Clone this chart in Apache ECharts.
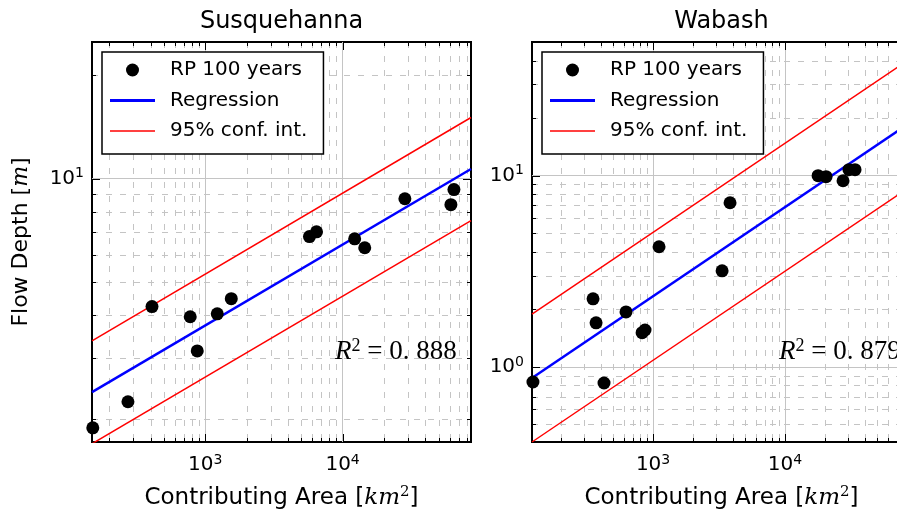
<!DOCTYPE html>
<html>
<head>
<meta charset="utf-8">
<script src="https://cdn.jsdelivr.net/npm/echarts@6/dist/echarts.min.js"></script>
<style>
html, body { margin: 0; padding: 0; background: #fff; }
#chart { width: 897px; height: 510px; }
</style>
</head>
<body>
<div id="chart"></div>
<script>
// Susquehanna, RP 100 years
var susArea = [152, 274, 410, 778, 875, 1224, 1548, 5740, 6460, 12240, 14490, 28400, 61400, 64600];
var susDepth = [1.88, 2.24, 4.24, 3.96, 3.15, 4.04, 4.47, 6.78, 7.00, 6.68, 6.29, 8.74, 8.40, 9.29];
// regression + 95% band, end points
var susLineArea = [150, 86000];
var susReg = [2.39, 10.67];
var susUpper = [3.37, 15.07];
var susLower = [1.69, 7.55];

// Wabash
var wabArea = [123, 351, 370, 425, 624, 826, 869, 1110, 3335, 3830, 17800, 20460, 27500, 30500, 33900];
var wabDepth = [0.834, 2.27, 1.70, 0.824, 1.94, 1.51, 1.56, 4.25, 3.18, 7.22, 10.0, 9.88, 9.41, 10.75, 10.75];
var wabLineArea = [121, 90000];
var wabReg = [0.875, 19.05];
var wabUpper = [1.89, 41.2];
var wabLower = [0.405, 8.81];

var titles = ['Susquehanna', 'Wabash'];
var r2Labels = ['0. 888', '0. 879'];
var legendNames = ['RP 100 years', 'Regression', '95% conf. int.'];

var xRange = [[150, 86000], [121, 90000]];
var yRange = [[1.71, 25], [0.405, 50]];

var FONT = 'DejaVu Sans';

function zip(a, b) {
    var out = [];
    for (var i = 0; i < a.length; i++) out.push([a[i], b[i]]);
    return out;
}

// 1..9 x 10^k positions inside the range, flag 1 for the decades
function logTicks(min, max) {
    var out = [];
    for (var k = Math.floor(Math.log10(min)); k <= Math.ceil(Math.log10(max)); k++) {
        for (var m = 1; m <= 9; m++) {
            var v = m * Math.pow(10, k);
            if (v > min * 1.002 && v < max / 1.002) out.push([v, m === 1 ? 1 : 0]);
        }
    }
    return out;
}

function powLabel(value) {
    var e = Math.log10(value);
    if (Math.abs(e - Math.round(e)) > 1e-6) return '';
    return '{b|10}{s|' + Math.round(e) + '}';
}

var labelRich = {
    b: { fontFamily: FONT, fontSize: 20, lineHeight: 24, color: '#000' },
    s: { fontFamily: FONT, fontSize: 14, lineHeight: 14, color: '#000', verticalAlign: 'top' }
};

function tickRenderer(dir) {
    return function(params, api) {
        var cs = params.coordSys;
        var p = api.coord([api.value(0), api.value(1)]);
        var major = api.value(2) === 1;
        var len = major ? 8 : 4;
        var kids = [];
        var tick = { stroke: '#000', lineWidth: 1 };
        var grid = { stroke: '#c4c4c4', lineWidth: 1, lineDash: [6, 8] };
        if (dir === 'x') {
            var x = Math.round(p[0]) + 0.5;
            var y0 = cs.y, y1 = cs.y + cs.height;
            if (!major) kids.push({ type: 'line', shape: { x1: x, y1: y0, x2: x, y2: y1 }, style: grid });
            kids.push({ type: 'line', shape: { x1: x, y1: y1, x2: x, y2: y1 - len }, style: tick });
            kids.push({ type: 'line', shape: { x1: x, y1: y0, x2: x, y2: y0 + len }, style: tick });
        } else {
            var y = Math.round(p[1]) + 0.5;
            var x0 = cs.x, x1 = cs.x + cs.width;
            if (!major) kids.push({ type: 'line', shape: { x1: x0, y1: y, x2: x1, y2: y }, style: grid });
            kids.push({ type: 'line', shape: { x1: x0, y1: y, x2: x0 + len, y2: y }, style: tick });
            kids.push({ type: 'line', shape: { x1: x1, y1: y, x2: x1 - len, y2: y }, style: tick });
        }
        return { type: 'group', children: kids };
    };
}

var grids = [
    { left: 92, top: 42, width: 379, height: 400 },
    { left: 532, top: 42, width: 379, height: 400 }
];

var xAxes = [], yAxes = [], series = [], legends = [], graphics = [];

var plotData = [
    { area: susArea, depth: susDepth, lineArea: susLineArea, reg: susReg, up: susUpper, lo: susLower },
    { area: wabArea, depth: wabDepth, lineArea: wabLineArea, reg: wabReg, up: wabUpper, lo: wabLower }
];

for (var i = 0; i < 2; i++) {
    var g = grids[i];
    g.show = true;
    g.borderColor = '#000';
    g.borderWidth = 2;
    g.backgroundColor = '#fff';
    g.containLabel = false;
    g.outerBoundsMode = 'none';

    xAxes.push({
        type: 'log', gridIndex: i, min: xRange[i][0], max: xRange[i][1],
        name: '{t|Contributing Area [}{i|km}{s|2}{t|]}',
        nameLocation: 'middle', nameGap: 43,
        nameTextStyle: {
            rich: {
                t: { fontFamily: FONT, fontSize: 23, lineHeight: 26, color: '#000' },
                i: { fontFamily: 'DejaVu Serif', fontStyle: 'italic', fontSize: 23, lineHeight: 26, color: '#000' },
                s: { fontFamily: 'DejaVu Serif', fontSize: 15, lineHeight: 15, color: '#000', verticalAlign: 'top' }
            }
        },
        axisLine: { show: false },
        axisTick: { show: false },
        axisLabel: { formatter: powLabel, rich: labelRich, margin: 11, showMinLabel: false, showMaxLabel: false },
        splitLine: { show: true, showMinLine: false, showMaxLine: false, lineStyle: { color: '#c4c4c4', width: 1 } }
    });

    yAxes.push({
        type: 'log', gridIndex: i, min: yRange[i][0], max: yRange[i][1],
        name: i === 0 ? '{t|Flow Depth [}{i|m}{t|]}' : '',
        nameLocation: 'middle', nameGap: 58, nameRotate: 90,
        nameTextStyle: {
            rich: {
                t: { fontFamily: FONT, fontSize: 22, lineHeight: 26, color: '#000' },
                i: { fontFamily: 'DejaVu Serif', fontStyle: 'italic', fontSize: 22, lineHeight: 26, color: '#000' }
            }
        },
        axisLine: { show: false },
        axisTick: { show: false },
        axisLabel: { formatter: powLabel, rich: labelRich, margin: 8, showMinLabel: false, showMaxLabel: false },
        splitLine: { show: true, showMinLine: false, showMaxLine: false, lineStyle: { color: '#c4c4c4', width: 1 } }
    });

    var d = plotData[i];

    series.push({
        type: 'custom', xAxisIndex: i, yAxisIndex: i, z: 1, silent: true,
        renderItem: tickRenderer('x'),
        data: logTicks(xRange[i][0], xRange[i][1]).map(function(t) { return [t[0], yRange[i][0], t[1]]; })
    });
    series.push({
        type: 'custom', xAxisIndex: i, yAxisIndex: i, z: 1, silent: true,
        renderItem: tickRenderer('y'),
        data: logTicks(yRange[i][0], yRange[i][1]).map(function(t) { return [xRange[i][0], t[0], t[1]]; })
    });

    series.push({
        name: legendNames[2], type: 'line', xAxisIndex: i, yAxisIndex: i, z: 3,
        symbol: 'none', clip: true, data: zip(d.lineArea, d.up),
        lineStyle: { color: '#ff0000', width: 1.5 }, itemStyle: { color: '#ff0000' }
    });
    series.push({
        name: legendNames[2], type: 'line', xAxisIndex: i, yAxisIndex: i, z: 3,
        symbol: 'none', clip: true, data: zip(d.lineArea, d.lo),
        lineStyle: { color: '#ff0000', width: 1.5 }, itemStyle: { color: '#ff0000' }
    });
    series.push({
        name: legendNames[1], type: 'line', xAxisIndex: i, yAxisIndex: i, z: 4,
        symbol: 'none', clip: true, data: zip(d.lineArea, d.reg),
        lineStyle: { color: '#0000ff', width: 2.5 }, itemStyle: { color: '#0000ff' }
    });
    series.push({
        name: legendNames[0], type: 'scatter', xAxisIndex: i, yAxisIndex: i, z: 5,
        symbol: 'circle', symbolSize: 13, data: zip(d.area, d.depth),
        itemStyle: { color: '#000', opacity: 1 }
    });

    legends.push({
        data: [
            { name: legendNames[0], icon: 'circle' },
            { name: legendNames[1], icon: 'path://M0,0L45,0L45,3L0,3Z' },
            { name: legendNames[2], icon: 'path://M0,0L45,0L45,1.6L0,1.6Z' }
        ],
        orient: 'vertical',
        left: i === 0 ? 102 : 542, top: 52,
        padding: [8, 16, 13, 8], itemWidth: 45, itemHeight: 13, itemGap: 10.5,
        backgroundColor: '#fff', borderColor: '#000', borderWidth: 1.5, borderRadius: 0,
        selectedMode: false, z: 10,
        textStyle: { fontFamily: FONT, fontSize: 20, lineHeight: 20, color: '#000', padding: [0, 0, 0, 10] }
    });

    graphics.push({
        type: 'text', x: g.left + g.width / 2, y: 22, z: 100,
        style: { text: titles[i], fontFamily: FONT, fontSize: 24, fill: '#000', align: 'center', verticalAlign: 'middle' }
    });
    graphics.push({
        type: 'text', x: i === 0 ? 335 : 779, y: 352, z: 100,
        style: {
            text: '{r|R}{s|2}{n| = ' + r2Labels[i] + '}',
            align: 'left', verticalAlign: 'middle',
            rich: {
                r: { fontFamily: 'Liberation Serif', fontStyle: 'italic', fontSize: 27, lineHeight: 30, fill: '#000' },
                s: { fontFamily: 'Liberation Serif', fontSize: 18, lineHeight: 18, fill: '#000', verticalAlign: 'top' },
                n: { fontFamily: 'Liberation Serif', fontSize: 27, lineHeight: 30, fill: '#000' }
            }
        }
    });
}

var chart = echarts.init(document.getElementById('chart'));
chart.setOption({
    animation: false,
    backgroundColor: '#fff',
    grid: grids,
    xAxis: xAxes,
    yAxis: yAxes,
    legend: legends,
    series: series,
    graphic: graphics
});
</script>
</body>
</html>
